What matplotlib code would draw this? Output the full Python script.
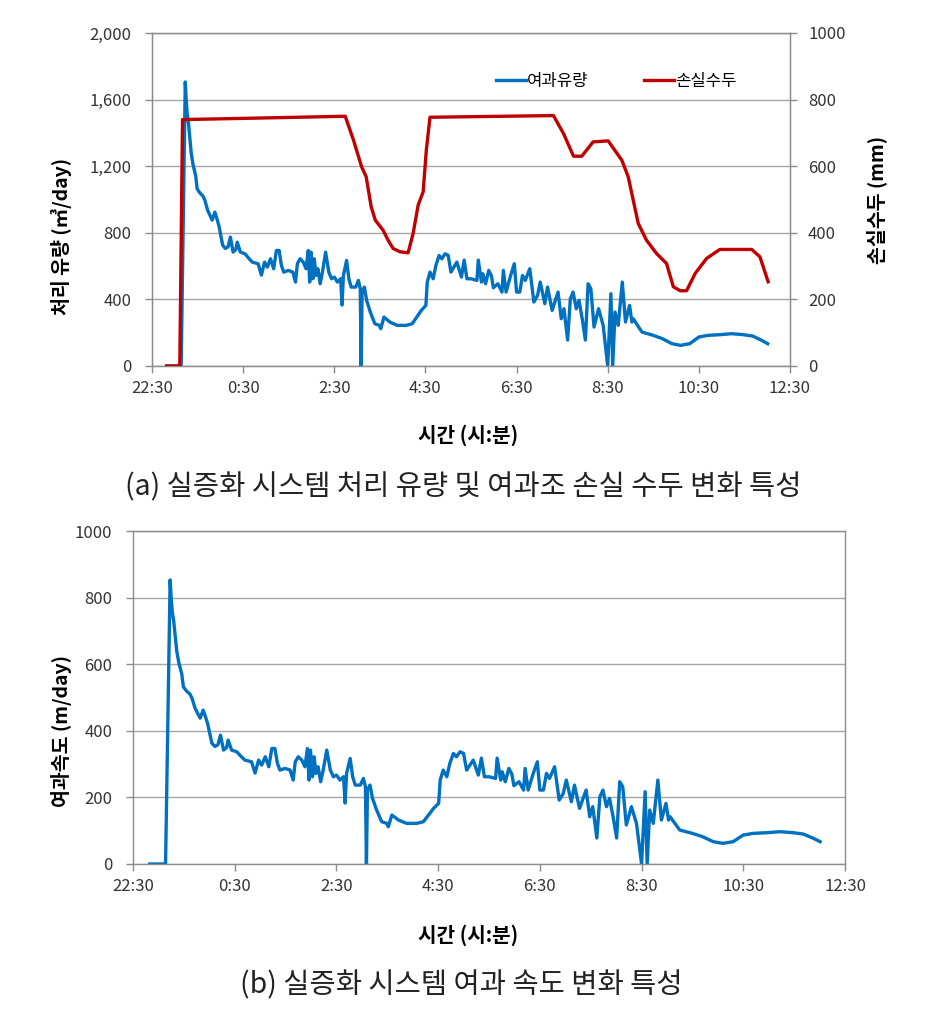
import matplotlib
matplotlib.use("Agg")
import matplotlib.pyplot as plt
from matplotlib.ticker import FuncFormatter

plt.rcParams["font.family"] = ["Noto Sans CJK KR", "DejaVu Sans"]

# time axis: hours after 22:30
X_TICKS = [0, 2, 4, 6, 8, 10, 12, 14]
X_TICK_LABELS = ["22:30", "0:30", "2:30", "4:30", "6:30", "8:30", "10:30", "12:30"]

# filtration flow / velocity samples
T_FLOW = [
    0.33, 0.64, 0.73, 0.75, 0.77, 0.80, 0.86, 0.90, 0.96, 0.99,
    1.05, 1.12, 1.16, 1.22, 1.28, 1.32, 1.38, 1.43, 1.47, 1.55,
    1.61, 1.67, 1.72, 1.78, 1.84, 1.87, 1.94, 2.04, 2.10, 2.20,
    2.33, 2.40, 2.47, 2.53, 2.60, 2.67, 2.73, 2.79, 2.84, 2.89,
    2.99, 3.09, 3.15, 3.19, 3.25, 3.32, 3.38, 3.43, 3.46, 3.49,
    3.53, 3.56, 3.60, 3.64, 3.69, 3.74, 3.81, 3.88, 3.94, 4.00,
    4.07, 4.14, 4.17, 4.20, 4.27, 4.32, 4.37, 4.47, 4.53, 4.57,
    4.59, 4.61, 4.66, 4.71, 4.79, 4.89, 4.99, 5.02, 5.09, 5.22,
    5.38, 5.58, 5.71, 5.81, 5.91, 6.01, 6.04, 6.10, 6.17, 6.23,
    6.30, 6.36, 6.43, 6.50, 6.56, 6.69, 6.79, 6.85, 6.91, 7.00,
    7.13, 7.16, 7.23, 7.26, 7.32, 7.39, 7.45, 7.49, 7.59, 7.68,
    7.71, 7.77, 7.87, 7.95, 8.00, 8.07, 8.13, 8.19, 8.29, 8.38,
    8.46, 8.52, 8.62, 8.68, 8.78, 8.91, 8.98, 9.04, 9.12, 9.18,
    9.24, 9.31, 9.37, 9.44, 9.51, 9.57, 9.63, 9.70, 9.80, 9.90,
    10.00, 10.07, 10.11, 10.16, 10.23, 10.32, 10.39, 10.48, 10.53, 10.56,
    10.75, 11.00, 11.20, 11.41, 11.60, 11.80, 12.00, 12.20, 12.46, 12.72,
    12.98, 13.18, 13.38, 13.51,
]

FLOW = [
    0, 0, 1706, 1600, 1520, 1460, 1280, 1210, 1140, 1064,
    1040, 1020, 996, 936, 900, 876, 924, 880, 840, 726,
    706, 716, 774, 684, 700, 744, 684, 674, 654, 624,
    614, 546, 624, 594, 644, 584, 694, 694, 604, 564,
    574, 564, 504, 614, 644, 624, 584, 694, 504, 684,
    524, 644, 544, 584, 494, 564, 684, 564, 524, 534,
    504, 524, 366, 544, 634, 524, 474, 474, 514, 464,
    0, 444, 474, 394, 324, 254, 244, 224, 294, 264,
    244, 244, 254, 294, 334, 364, 504, 564, 524, 604,
    664, 644, 674, 664, 564, 624, 534, 636, 524, 524,
    514, 636, 504, 554, 494, 574, 540, 470, 494, 444,
    574, 444, 544, 614, 444, 444, 544, 514, 584, 384,
    424, 504, 374, 474, 334, 444, 284, 344, 156, 404,
    444, 344, 394, 284, 156, 494, 464, 234, 344, 244,
    0, 434, 0, 324, 244, 504, 264, 364, 264, 284,
    204, 184, 164, 134, 124, 134, 174, 184, 188, 194,
    188, 180, 154, 134,
]

VELOCITY = [
    0, 0, 853, 800, 760, 730, 640, 605, 570, 532,
    520, 510, 498, 468, 450, 438, 462, 440, 420, 363,
    353, 358, 387, 342, 350, 372, 342, 337, 327, 312,
    307, 273, 312, 297, 322, 292, 347, 347, 302, 282,
    287, 282, 252, 307, 322, 312, 292, 347, 252, 342,
    262, 322, 272, 292, 247, 282, 342, 282, 262, 267,
    252, 262, 183, 272, 317, 262, 237, 237, 257, 232,
    0, 222, 237, 197, 162, 127, 122, 112, 147, 132,
    122, 122, 127, 147, 167, 182, 252, 282, 262, 302,
    332, 322, 337, 332, 282, 312, 267, 318, 262, 262,
    257, 318, 252, 277, 247, 287, 270, 235, 247, 222,
    287, 222, 272, 307, 222, 222, 272, 257, 292, 192,
    212, 252, 187, 237, 167, 222, 142, 172, 78, 202,
    222, 172, 197, 142, 78, 247, 232, 117, 172, 122,
    0, 217, 0, 162, 122, 252, 132, 182, 132, 142,
    102, 92, 82, 67, 62, 67, 87, 92, 94, 97,
    94, 90, 77, 67,
]

# head loss samples (mm)
T_HEAD = [
    0.32, 0.61, 0.67, 2.50, 4.24, 4.42, 4.60, 4.70, 4.81, 4.90,
    5.07, 5.18, 5.29, 5.44, 5.62, 5.73, 5.84, 5.95, 6.02, 6.10,
    8.81, 9.03, 9.25, 9.43, 9.68, 10.01, 10.31, 10.45, 10.56, 10.67,
    10.85, 11.07, 11.29, 11.44, 11.59, 11.73, 11.92, 12.17, 12.46, 13.16,
    13.34, 13.52,
]
HEAD_LOSS = [
    0, 0, 740, 745, 750, 679, 598, 568, 478, 438,
    408, 378, 353, 343, 340, 398, 483, 523, 649, 747,
    752, 698, 630, 630, 673, 676, 618, 568, 498, 428,
    378, 338, 308, 238, 226, 226, 278, 323, 350, 350,
    328, 253,
]

BLUE = "#0070C0"
RED = "#C00000"
GRID = "#a6a6a6"
SPINE = "#8c8c8c"
TXT = "#333333"


def style_axes(ax):
    ax.set_xlim(0, 14)
    ax.set_xticks(X_TICKS)
    ax.set_xticklabels(X_TICK_LABELS)
    ax.grid(axis="y", color=GRID, linewidth=1.0)
    ax.set_axisbelow(True)
    for s in ax.spines.values():
        s.set_color(SPINE)
        s.set_linewidth(1.0)
    ax.tick_params(axis="x", direction="out", length=5, width=1, color=SPINE,
                   labelsize=12, labelcolor=TXT, pad=5)
    ax.tick_params(axis="y", direction="out", length=5, width=1, color=SPINE,
                   labelsize=12, labelcolor=TXT, pad=10)


fig = plt.figure(figsize=(9.41, 10.17), dpi=100)

# (a) flow and head loss
ax1 = fig.add_axes([152 / 941, 1 - 366 / 1017, 638 / 941, 333 / 1017])
style_axes(ax1)
ax1.set_ylim(0, 2000)
ax1.set_yticks(range(0, 2001, 400))
ax1.yaxis.set_major_formatter(FuncFormatter(lambda v, p: f"{int(v):,}"))
l1, = ax1.plot(T_FLOW, FLOW, color=BLUE, linewidth=2.4, label="여과유량")
ax1.set_ylabel("처리 유량 (㎥/day)", fontsize=14, fontweight="bold", color="black")
ax1.yaxis.set_label_coords(-0.125, 0.39)

ax2 = ax1.twinx()
ax2.set_ylim(0, 1000)
ax2.set_yticks(range(0, 1001, 200))
for s in ax2.spines.values():
    s.set_color(SPINE)
ax2.tick_params(axis="y", direction="out", length=5, width=1, color=SPINE,
                labelsize=12, labelcolor=TXT, pad=8)
l2, = ax2.plot(T_HEAD, HEAD_LOSS, color=RED, linewidth=2.4, label="손실수두")
ax2.set_ylabel("손실수두 (mm)", fontsize=14, fontweight="bold", color="black")
ax2.yaxis.set_label_coords(1.12, 0.5)

ax1.legend([l1, l2], ["여과유량", "손실수두"], loc="center left",
           bbox_to_anchor=(0.515, 0.855), ncol=2, frameon=False, fontsize=12,
           handlelength=1.8, handletextpad=0.1, columnspacing=3.3)

fig.text(468 / 941, 1 - 435 / 1017, "시간 (시:분)", ha="center", va="center",
         fontsize=14.5, fontweight="bold")
fig.text(463 / 941, 1 - 487 / 1017,
         "(a) 실증화 시스템 처리 유량 및 여과조 손실 수두 변화 특성",
         ha="center", va="center", fontsize=20.5, color="#222222")

# (b) filtration velocity
ax3 = fig.add_axes([133 / 941, 1 - 864 / 1017, 712 / 941, 333 / 1017])
style_axes(ax3)
ax3.set_ylim(0, 1000)
ax3.set_yticks(range(0, 1001, 200))
ax3.plot(T_FLOW, VELOCITY, color=BLUE, linewidth=2.4)
ax3.set_ylabel("여과속도 (m/day)", fontsize=14, fontweight="bold", color="black")
ax3.yaxis.set_label_coords(-0.0857, 0.40)

fig.text(468 / 941, 1 - 935 / 1017, "시간 (시:분)", ha="center", va="center",
         fontsize=14.5, fontweight="bold")
fig.text(461 / 941, 1 - 985 / 1017, "(b) 실증화 시스템 여과 속도 변화 특성",
         ha="center", va="center", fontsize=20.5, color="#222222")

fig.savefig("out.png", dpi=100)
